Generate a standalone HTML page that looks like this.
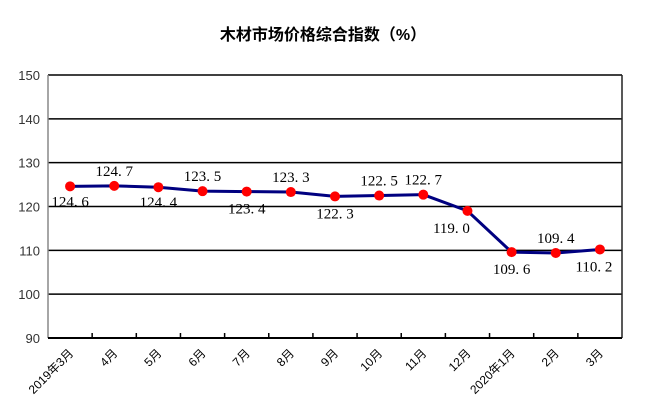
<!DOCTYPE html>
<html><head><meta charset="utf-8"><style>
html,body{margin:0;padding:0;background:#fff;}
svg{display:block;}
</style></head><body>
<svg id="chart" width="646" height="414" xmlns="http://www.w3.org/2000/svg">
<text x="323" y="40" text-anchor="middle" font-family="'Liberation Sans','Noto Sans CJK SC',sans-serif" font-size="16" font-weight="bold" fill="#000">木材市场价格综合指数（%）</text>
<g id="grid"></g><g id="axes"></g><g id="series"></g><g id="labels"></g>
</svg>
<script>
const categories=["2019年3月","4月","5月","6月","7月","8月","9月","10月","11月","12月","2020年1月","2月","3月"];
const values=[124.6,124.7,124.4,123.5,123.4,123.3,122.3,122.5,122.7,119.0,109.6,109.4,110.2];
const labelPos=["below","above","below","above","below","above","below","above","above","below","below","above","below"];
const yTicks=[90,100,110,120,130,140,150];
const X0=48,X1=622,Y0=75,Y1=338,yMin=90,yMax=150;
const ns="http://www.w3.org/2000/svg";
const bw=(X1-X0)/categories.length;
function xs(i){return X0+bw*(i+0.5);}
function ys(v){return Y1-(v-yMin)/(yMax-yMin)*(Y1-Y0);}
function mk(t,a,p){const e=document.createElementNS(ns,t);for(const k in a)e.setAttribute(k,a[k]);p.appendChild(e);return e;}
const grid=document.getElementById('grid'),axes=document.getElementById('axes'),series=document.getElementById('series'),labels=document.getElementById('labels');
yTicks.forEach(t=>{
 if(t>yMin){const l=mk('line',{x1:X0,x2:X1,y1:ys(t),y2:ys(t),stroke:'#000','stroke-width':1.5},grid);
 
 }
 const tx=mk('text',{x:X0-8,y:ys(t)+5,'text-anchor':'end','font-family':"'Liberation Sans',sans-serif",'font-size':13,fill:'#333'},axes);
 tx.textContent=t;
 
 
});
const ax=mk('line',{x1:X0,x2:X0,y1:Y0,y2:Y1,stroke:'#888','stroke-width':1.5},axes);


const rx=mk('line',{x1:X1,x2:X1,y1:Y0,y2:Y1,stroke:'#222','stroke-width':1.5},axes);


const bx=mk('line',{x1:X0,x2:X1,y1:Y1,y2:Y1,stroke:'#000','stroke-width':2},axes);


categories.forEach((c,i)=>{
 if(i>0){const tk=mk('line',{x1:X0+bw*i,x2:X0+bw*i,y1:Y1-5,y2:Y1,stroke:'#000','stroke-width':1.5},axes);
 
 }
 const x=xs(i)+4,y=Y1+16;
 const tx=mk('text',{x:x,y:y,'text-anchor':'end','font-family':"'Liberation Sans','Noto Sans CJK SC',sans-serif",'font-size':12,fill:'#000',transform:`rotate(-45 ${x} ${y})`},axes);
 tx.textContent=c;
 
 
});
const pl=mk('polyline',{points:values.map((v,i)=>xs(i)+','+ys(v)).join(' '),fill:'none',stroke:'#000080','stroke-width':3},series);


values.forEach((v,i)=>{
 const c=mk('circle',{cx:xs(i),cy:ys(v),r:5,fill:'#ff0000'},series);
 
 
 let dx=0,dy=labelPos[i]==='above'?-10:22;
 if(i===9)dx=-16;
 if(i===12)dx=-6;
 if(i===2||i===0)dy=20;
 const t=mk('text',{x:xs(i)+dx,y:ys(v)+dy,'text-anchor':'middle','font-family':"'Liberation Serif',serif",'font-size':15,fill:'#000'},labels);
 t.textContent=v.toFixed(1).replace('.','. ');
 
 
});
</script>
</body></html>
